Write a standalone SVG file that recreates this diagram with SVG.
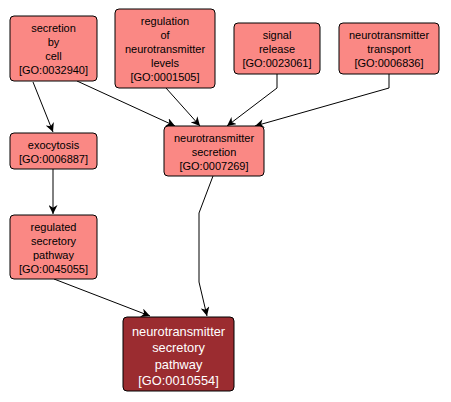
<svg xmlns="http://www.w3.org/2000/svg" width="451" height="402" viewBox="0 0 451 402">
<style>
.n rect{fill:#fa8884;stroke:#000;stroke-width:1}
.n text{font-family:"Liberation Sans",Arial,sans-serif;font-size:11px;fill:#000;text-anchor:middle}
#target rect{fill:#9b2c30}
#target text{fill:#fff;font-size:12.8px}
.e path{fill:none;stroke:#000;stroke-width:1;marker-end:url(#a)}
</style>
<defs>
<marker id="a" viewBox="0 0 10 10" refX="10" refY="5" markerWidth="9" markerHeight="9" markerUnits="userSpaceOnUse" orient="auto">
<path d="M0,0 L10,5 L0,10 L3,5 z" fill="#000"/>
</marker>
</defs>
<rect width="451" height="402" fill="#fff"/>
<g class="e">
<path d="M33,82 L53,132"/>
<path d="M77,81 L175,126"/>
<path d="M166,88 L200,126"/>
<path d="M277,74 L277,88 L227,126"/>
<path d="M389,74 L389,88 L255,126"/>
<path d="M53,169 L53,214"/>
<path d="M54,279 L150,316"/>
<path d="M213,176 L199,213 L199,282 L207,316"/>
</g>
<g id="secretion_by_cell" class="n"><rect x="10" y="16" width="87" height="65" rx="4"/>
<text x="53.5" y="32">secretion</text><text x="53.5" y="46">by</text><text x="53.5" y="60">cell</text><text x="53.5" y="74">[GO:0032940]</text></g>
<g id="regulation" class="n"><rect x="115" y="9" width="100" height="79" rx="4"/>
<text x="165" y="25">regulation</text><text x="165" y="39">of</text><text x="165" y="53">neurotransmitter</text><text x="165" y="67">levels</text><text x="165" y="81">[GO:0001505]</text></g>
<g id="signal_release" class="n"><rect x="234" y="23" width="86" height="51" rx="4"/>
<text x="277" y="39">signal</text><text x="277" y="53">release</text><text x="277" y="67">[GO:0023061]</text></g>
<g id="nt_transport" class="n"><rect x="339" y="23" width="100" height="51" rx="4"/>
<text x="389" y="39">neurotransmitter</text><text x="389" y="53">transport</text><text x="389" y="67">[GO:0006836]</text></g>
<g id="exocytosis" class="n"><rect x="10" y="133" width="87" height="36" rx="4"/>
<text x="53.5" y="149">exocytosis</text><text x="53.5" y="163">[GO:0006887]</text></g>
<g id="nt_secretion" class="n"><rect x="164" y="126" width="100" height="50" rx="4"/>
<text x="214" y="142">neurotransmitter</text><text x="214" y="156">secretion</text><text x="214" y="170">[GO:0007269]</text></g>
<g id="regulated" class="n"><rect x="10" y="215" width="87" height="64" rx="4"/>
<text x="53.5" y="231">regulated</text><text x="53.5" y="245">secretory</text><text x="53.5" y="259">pathway</text><text x="53.5" y="273">[GO:0045055]</text></g>
<g id="target" class="n"><rect x="123" y="317" width="111" height="74" rx="4"/>
<text x="178.5" y="335.5">neurotransmitter</text><text x="178.5" y="352">secretory</text><text x="178.5" y="368.5">pathway</text><text x="178.5" y="385">[GO:0010554]</text></g>
</svg>
